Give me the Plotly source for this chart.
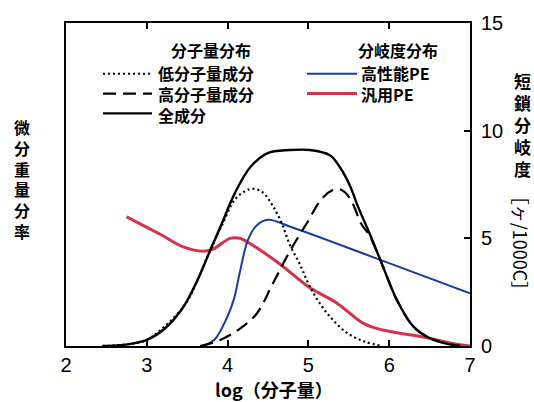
import plotly.graph_objects as go

# ---- data (x = log molecular weight, y in right-axis units) ----
total_x = [2.45, 2.63, 2.8, 3.0, 3.22, 3.45, 3.62, 3.78, 3.93, 4.09, 4.28, 4.49, 4.77, 5.02, 5.27, 5.39, 5.52, 5.6, 5.76, 5.89, 6.1, 6.3, 6.5, 6.72, 6.88]
total_y = [0.0, 0.02, 0.1, 0.28, 0.8, 1.8, 3.0, 4.4, 5.7, 7.1, 8.3, 8.95, 9.1, 9.1, 8.85, 8.3, 7.4, 6.6, 5.2, 4.0, 2.1, 0.9, 0.37, 0.1, 0.0]

low_x = [2.45, 2.8, 3.0, 3.45, 3.62, 3.78, 3.93, 4.09, 4.22, 4.31, 4.43, 4.56, 4.67, 4.77, 4.9, 5.0, 5.12, 5.27, 5.48, 5.7, 5.92]
low_y = [0.0, 0.1, 0.28, 1.8, 3.0, 4.4, 5.6, 6.8, 7.2, 7.3, 7.15, 6.5, 5.7, 4.7, 3.75, 2.9, 2.1, 1.35, 0.6, 0.2, 0.0]

high_x = [3.66, 3.91, 4.15, 4.36, 4.56, 4.77, 4.98, 5.18, 5.35, 5.45, 5.55, 5.65, 5.76, 5.89, 6.1, 6.3, 6.5, 6.72, 6.88]
high_y = [0.0, 0.28, 0.8, 1.5, 2.9, 4.4, 5.7, 6.9, 7.3, 7.15, 6.6, 5.7, 5.1, 4.0, 2.1, 0.9, 0.37, 0.1, 0.0]

hp_x = [3.70, 3.84, 3.99, 4.08, 4.15, 4.25, 4.36, 4.5, 4.77, 5.89, 7.0]
hp_y = [0.0, 0.3, 1.3, 2.2, 3.4, 4.9, 5.6, 5.86, 5.55, 4.0, 2.45]

gen_x = [2.75, 3.16, 3.45, 3.70, 3.82, 4.03, 4.15, 4.28, 4.65, 5.02, 5.35, 5.68, 5.92, 6.42, 6.75, 7.0]
gen_y = [6.0, 5.2, 4.6, 4.4, 4.5, 5.0, 5.0, 4.75, 3.8, 2.7, 2.0, 1.05, 0.74, 0.42, 0.14, 0.0]

x_ticks = [2, 3, 4, 5, 6, 7]
y_ticks = [0, 5, 10, 15]

mw_labels = ["低分子量成分", "高分子量成分", "全成分"]
br_labels = ["高性能PE", "汎用PE"]

BLUE = "#1b3c9c"
RED = "#d6304b"
CJK = "Noto Sans CJK JP"
NUM = "Liberation Sans, Arial, sans-serif"

W, H = 534, 402
# plot area in picture pixels
L, R, T, B = 66, 470, 21, 346


def P(px, py):
    return (px - L) / (R - L), (B - py) / (B - T)


fig = go.Figure()
common = dict(mode="lines", line_shape="spline", hoverinfo="skip", showlegend=False)
fig.add_trace(go.Scatter(x=gen_x, y=gen_y, line=dict(color=RED, width=3), **common))
fig.add_trace(go.Scatter(x=hp_x, y=hp_y, line=dict(color=BLUE, width=2), **common))
fig.add_trace(go.Scatter(x=low_x, y=low_y, line=dict(color="black", width=2.2, dash="2px,3px"), **common))
fig.add_trace(go.Scatter(x=high_x, y=high_y, line=dict(color="black", width=2.2, dash="13px,7px"), **common))
fig.add_trace(go.Scatter(x=total_x, y=total_y, line=dict(color="black", width=2.4), **common))

shapes = []
annotations = []


def text(px, py, s, size=16, anchor="left", bold=True, angle=0, family=CJK):
    x, y = P(px, py)
    annotations.append(dict(
        x=x, y=y, xref="paper", yref="paper", text=s, showarrow=False,
        xanchor=anchor, yanchor="middle", textangle=angle, borderpad=0, align="left",
        font=dict(family=family, size=size, color="black", weight="bold" if bold else "normal"),
    ))


def sample(px0, px1, py, color, width, dash="solid"):
    x0, y0 = P(px0, py)
    x1, _ = P(px1, py)
    shapes.append(dict(type="line", xref="paper", yref="paper", x0=x0, x1=x1, y0=y0, y1=y0,
                       line=dict(color=color, width=width, dash=dash)))


# legend blocks
text(211, 48, "分子量分布", anchor="center")
text(398, 48, "分岐度分布", anchor="center")
sample(103, 152, 72, "black", 2, "2px,3px")
sample(103, 152, 92, "black", 2.2, "13px,7px")
sample(103, 152, 112, "black", 2.2)
text(157, 92, "<br>".join(mw_labels))
sample(307, 357, 72, BLUE, 2)
sample(307, 357, 92, RED, 3)
text(360, 82, "<br>".join(br_labels))

# left vertical title (upright stacked characters)
text(22, 178, "<br>".join("微分重量分率"), size=16, anchor="center")

# right vertical title
text(522, 123, "<br>".join("短鎖分岐度"), size=17, anchor="center")
text(521, 242, "［ヶ/1000C］", size=18, anchor="center", bold=False, angle=90)

# x title
text(274, 389, "log（分子量）", size=18, anchor="center")

fig.update_layout(
    width=W, height=H,
    margin=dict(l=L, r=W - R, t=T, b=H - B),
    paper_bgcolor="white", plot_bgcolor="white",
    shapes=shapes, annotations=annotations,
    xaxis=dict(range=[2, 7], tickvals=x_ticks, ticktext=[str(v) for v in x_ticks],
               showgrid=False, zeroline=False, showline=True, linecolor="black", linewidth=2,
               mirror="ticks", ticks="inside", ticklen=6, tickwidth=1.5, tickcolor="black",
               tickfont=dict(family=NUM, size=20, color="black")),
    yaxis=dict(range=[0, 15], tickvals=y_ticks, ticktext=[str(v) for v in y_ticks], side="right",
               showgrid=False, zeroline=False, showline=True, linecolor="black", linewidth=2,
               mirror=True, ticks="inside", ticklen=6, tickwidth=1.5, tickcolor="black",
               ticklabelstandoff=5,
               tickfont=dict(family=NUM, size=20, color="black")),
)

fig.write_html(
    "out.html",
    config={"displayModeBar": False},
    post_script="document.body.style.margin='0';document.body.style.overflow='hidden';"
                "document.documentElement.style.overflow='hidden';",
)
